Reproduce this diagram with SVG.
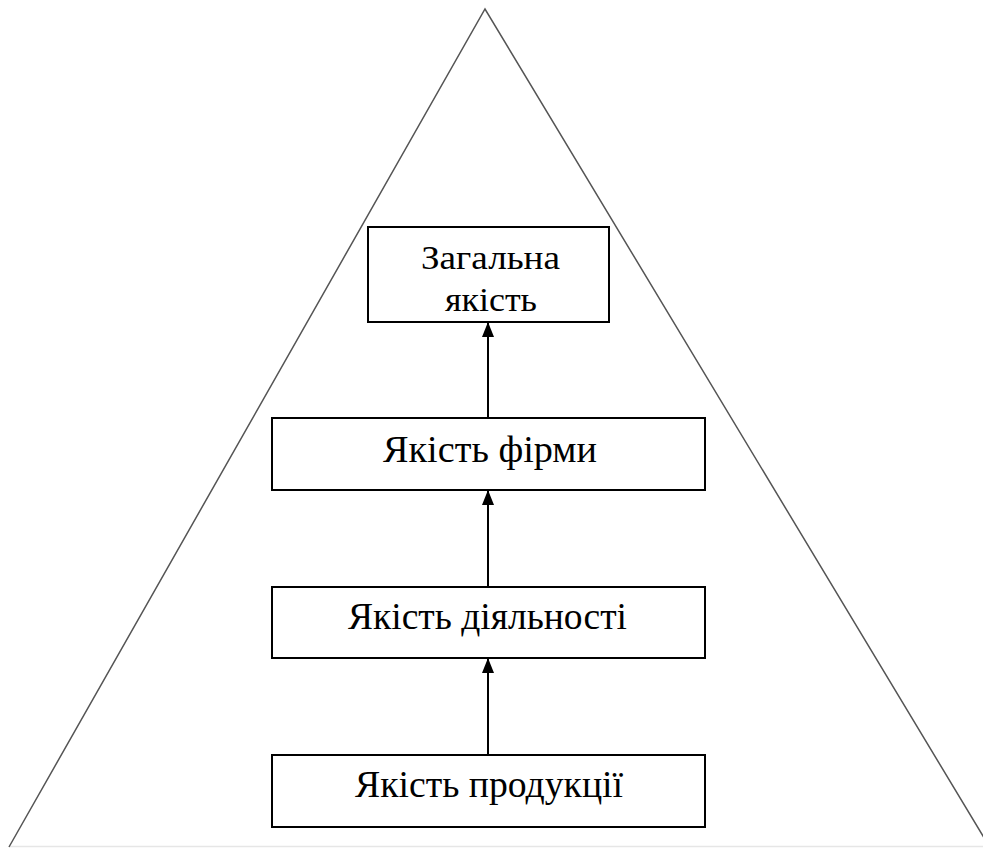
<svg xmlns="http://www.w3.org/2000/svg" width="983" height="848" viewBox="0 0 983 848">
<style>
.box{fill:#fff;stroke:#000;stroke-width:2}
.t{font-family:'Liberation Serif','DejaVu Serif',serif;font-size:38px;fill:#000;text-anchor:middle}
.s{font-size:33px}
.c{stroke:#000;stroke-width:2;fill:none}
</style>
<defs>
<marker id="ah" markerWidth="12" markerHeight="15" refX="6" refY="1" orient="0" markerUnits="userSpaceOnUse">
<path d="M6,0 L12,15 L0,15 Z" fill="#000"/>
</marker>
<clipPath id="clip1"><rect x="369" y="228" width="239" height="84"/></clipPath>
</defs>
<rect width="983" height="848" fill="#fff"/>
<g id="pyramid">
<line x1="9" y1="846.5" x2="983" y2="846.5" stroke="#e6e6e6" stroke-width="1.5"/>
<polyline points="9,847 485,9 989,846" fill="none" stroke="#555" stroke-width="1.5"/>
</g>
<g id="connectors">
<line class="c" x1="488" y1="755" x2="488" y2="659" marker-end="url(#ah)"/>
<line class="c" x1="488" y1="587" x2="488" y2="491" marker-end="url(#ah)"/>
<line class="c" x1="488" y1="418" x2="488" y2="323" marker-end="url(#ah)"/>
</g>
<g id="node-general">
<rect class="box" x="368" y="227" width="241" height="95"/>
<g clip-path="url(#clip1)">
<text class="t s" x="490.5" y="268.5" textLength="139" lengthAdjust="spacingAndGlyphs">Загальна</text>
<text class="t s" x="491" y="311" textLength="92" lengthAdjust="spacingAndGlyphs">якість</text>
</g>
</g>
<g id="node-firm">
<rect class="box" x="272" y="418" width="433" height="72"/>
<text class="t" x="490" y="462" textLength="214" lengthAdjust="spacingAndGlyphs">Якість фірми</text>
</g>
<g id="node-activity">
<rect class="box" x="272" y="587" width="433" height="71"/>
<text class="t" x="487.5" y="629" textLength="279" lengthAdjust="spacingAndGlyphs">Якість діяльності</text>
</g>
<g id="node-product">
<rect class="box" x="272" y="755" width="433" height="72"/>
<text class="t" x="489" y="797" textLength="268" lengthAdjust="spacingAndGlyphs">Якість продукції</text>
</g>
</svg>
